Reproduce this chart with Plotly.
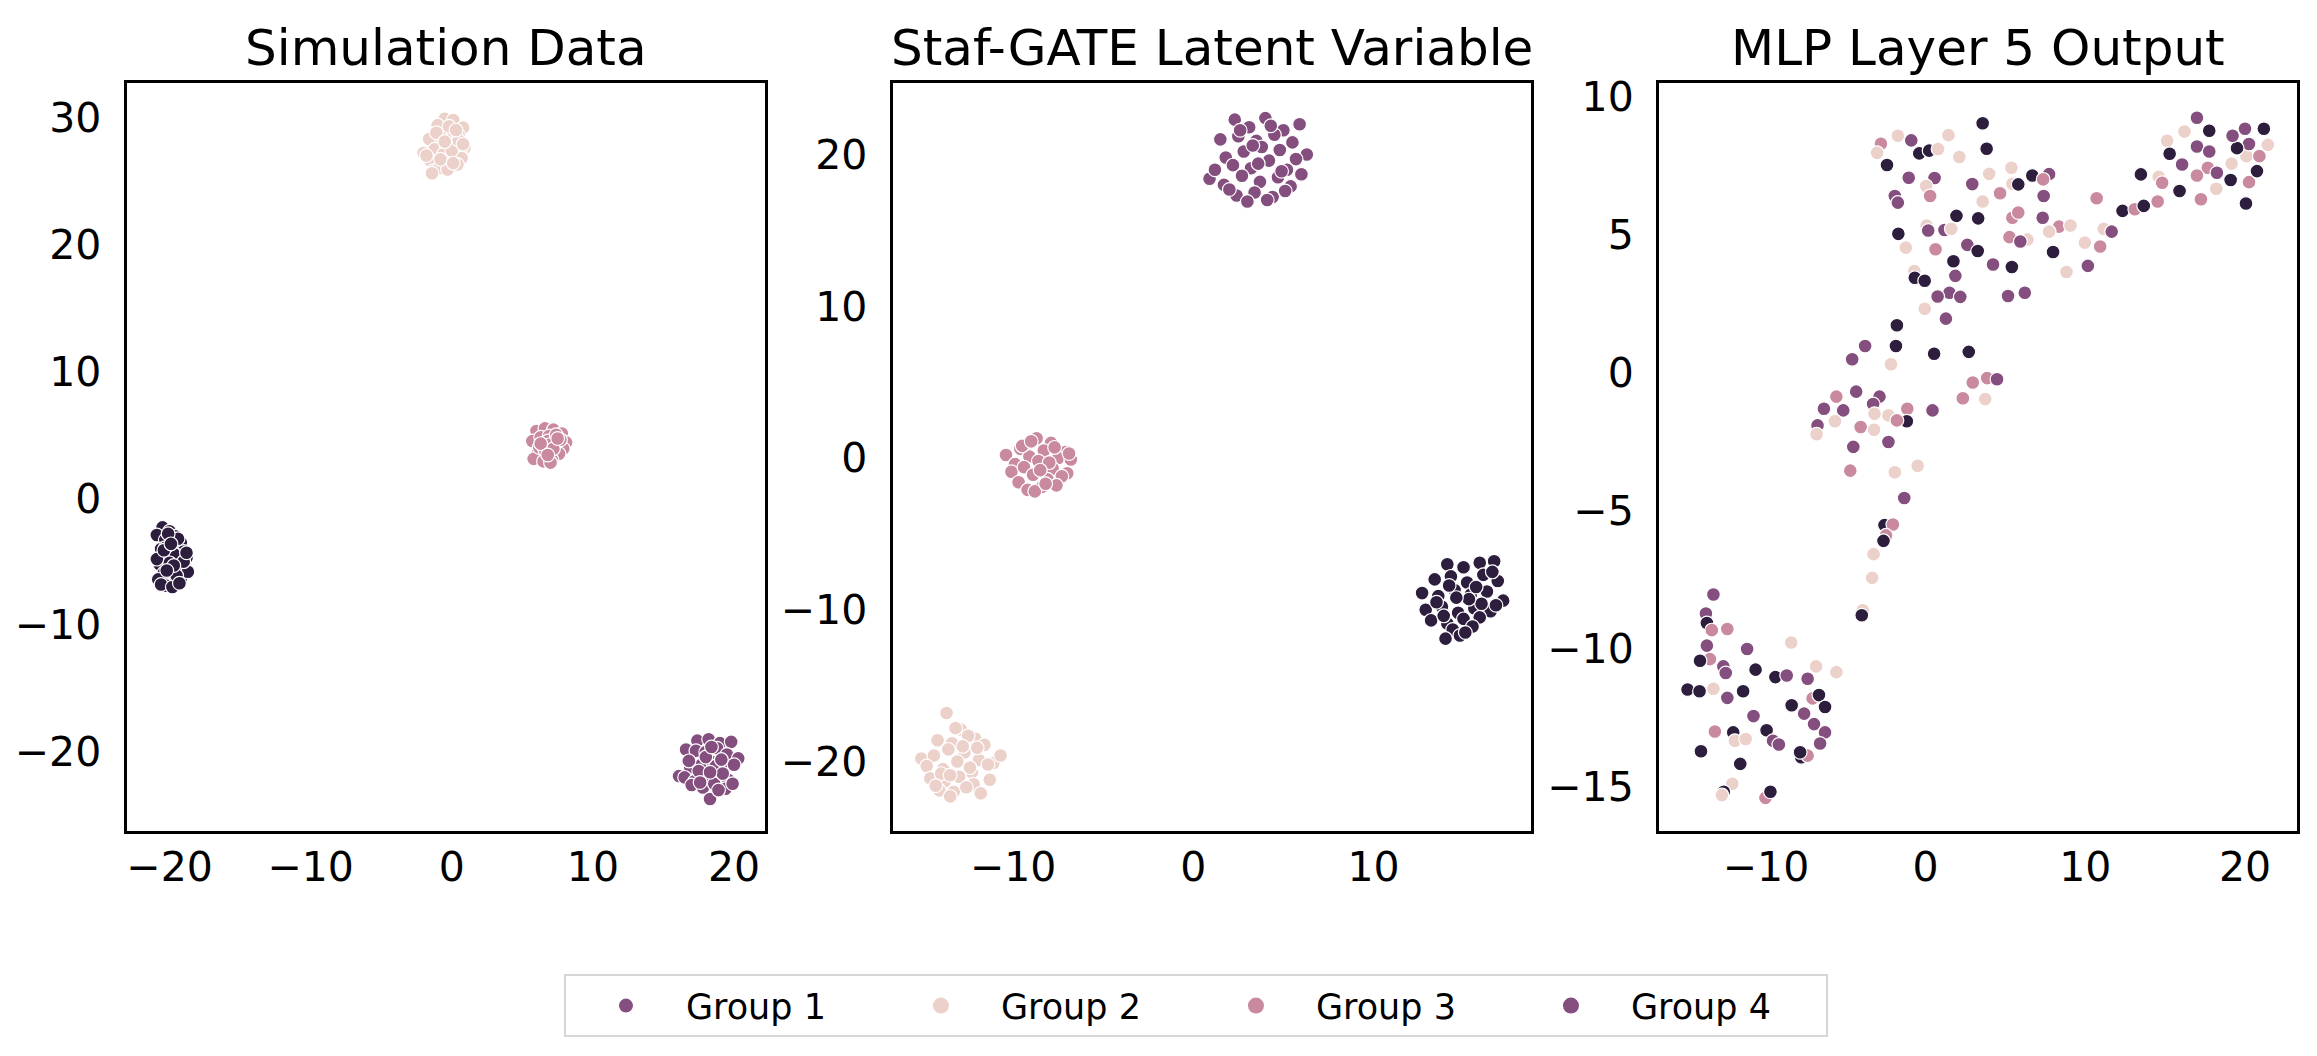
import plotly.graph_objects as go

# ---------------- colours (seaborn cubehelix-like) ----------------
LIGHT = "#ecd0ca"
PINK = "#c98aa0"
PURPLE = "#844e7e"
DARK = "#2d1e3e"
palette = {"L": LIGHT, "K": PINK, "P": PURPLE, "D": DARK}

titles = ["Simulation Data", "Staf-GATE Latent Variable", "MLP Layer 5 Output"]
legend_labels = ["Group 1", "Group 2", "Group 3", "Group 4"]
legend_colors = [PURPLE, LIGHT, PINK, PURPLE]
legend_sizes = [14, 17, 17, 19]

# ---------------- panel 1 : Simulation Data ----------------
p1_dark_x = [-20.5, -20.0, -19.6, -20.9, -19.2, -20.3, -19.8, -19.0, -20.6, -19.5, -20.1, -18.8, -20.7, -19.3,
             -19.9, -20.4, -19.1, -20.8, -19.6, -20.2, -18.9, -19.7, -20.5, -19.4, -20.0, -19.2, -20.6, -19.8,
             -18.7, -20.3, -19.5, -20.1, -19.0, -20.9, -19.7, -20.4, -19.3, -19.9, -18.8, -20.2]
p1_dark_y = [-2.3, -2.6, -3.0, -2.9, -3.5, -3.3, -3.8, -4.2, -4.0, -4.5, -4.9, -4.7, -5.2, -5.4, -5.6, -5.9,
             -6.0, -6.4, -6.6, -6.9, -5.5, -4.4, -4.6, -3.2, -5.1, -6.3, -6.8, -7.0, -5.8, -3.9, -6.1, -2.8,
             -5.0, -4.8, -5.3, -4.1, -6.7, -3.6, -4.3, -5.7]
p1_light_x = [-0.5, 0.1, 0.8, -1.0, -0.2, 0.5, -1.6, -0.8, 0.3, 0.9, -2.0, -1.2, -0.4, 0.6, -0.1, -1.5, -0.7,
              0.2, 0.7, -1.3, -0.9, -0.3, 0.4, -1.8, -0.6, 0.0, 0.5, -1.1, -0.2, 0.8, -1.4, -0.5, 0.3, -0.8, 0.1]
p1_light_y = [29.9, 29.8, 29.2, 29.4, 28.9, 28.6, 28.3, 28.5, 28.0, 27.6, 27.2, 27.5, 27.8, 27.3, 26.9, 26.6,
              26.5, 26.2, 26.8, 25.8, 26.0, 25.9, 26.3, 27.0, 27.1, 27.4, 28.2, 28.8, 29.3, 27.9, 25.6, 28.1,
              29.0, 26.7, 26.4]
p1_pink_x = [6.0, 6.6, 7.2, 7.8, 5.7, 6.3, 6.9, 7.5, 8.1, 6.1, 6.7, 7.3, 7.9, 6.4, 7.0, 7.6, 5.8, 6.5, 7.1,
             7.7, 6.2, 6.8, 7.4, 6.9, 6.6, 7.2, 7.0, 6.3, 7.5, 6.8]
p1_pink_y = [5.3, 5.5, 5.4, 5.1, 4.5, 4.8, 4.9, 4.6, 4.4, 3.6, 4.1, 4.3, 3.9, 3.3, 3.6, 3.5, 3.1, 2.9, 3.0,
             4.6, 4.0, 4.5, 5.0, 4.2, 3.8, 3.9, 2.8, 4.3, 4.7, 3.4]
p1_purple_x = [17.4, 18.2, 19.0, 19.8, 16.6, 17.3, 18.0, 18.8, 19.5, 20.3, 16.1, 16.9, 17.7, 18.5, 19.3, 20.0,
               16.5, 17.2, 18.1, 18.9, 19.6, 17.0, 17.8, 18.6, 19.4, 18.3, 17.5, 18.7, 19.1, 18.0, 16.8, 19.9,
               18.4, 17.6, 18.9, 19.2, 18.3]
p1_purple_y = [-19.1, -19.0, -19.3, -19.2, -19.8, -19.9, -20.0, -19.7, -20.2, -20.5, -21.9, -21.2, -21.0,
               -20.8, -21.3, -21.0, -22.0, -22.3, -22.0, -21.8, -22.2, -22.6, -22.8, -22.5, -22.9, -23.7,
               -21.5, -21.1, -20.6, -20.4, -20.7, -22.5, -19.6, -22.4, -23.0, -21.7, -21.6]

# ---------------- panel 2 : Staf-GATE Latent Variable ----------------
p2_purple_x = [2.3, 3.1, 4.0, 5.0, 5.9, 1.5, 2.5, 3.5, 4.5, 5.5, 6.3, 0.9, 1.8, 2.8, 3.8, 4.8, 5.7, 1.2, 2.2,
               3.2, 4.2, 5.2, 6.0, 1.7, 2.7, 3.7, 4.7, 5.4, 2.4, 3.4, 4.4, 3.0, 4.1, 2.0, 3.6, 4.9, 2.6, 4.3,
               3.3, 5.1]
p2_purple_y = [22.3, 21.8, 22.4, 21.6, 22.0, 21.0, 21.2, 20.9, 21.3, 20.8, 20.0, 18.4, 19.8, 20.2, 20.5, 20.3,
               19.7, 19.0, 19.3, 19.1, 19.6, 19.0, 18.7, 18.0, 18.6, 18.2, 18.5, 17.9, 17.3, 17.5, 17.2, 16.9,
               17.0, 17.7, 19.4, 18.9, 21.6, 21.9, 20.6, 17.6]
p2_pink_x = [-10.4, -9.6, -8.7, -7.9, -7.1, -9.9, -9.1, -8.3, -7.5, -6.8, -10.1, -9.4, -8.6, -7.8, -7.0, -9.7,
             -8.9, -8.1, -7.3, -9.2, -8.4, -7.6, -8.8, -8.0, -9.5, -8.5, -7.7, -9.0, -8.2, -6.9]
p2_pink_y = [0.2, 0.6, 1.3, 1.0, 0.4, -0.4, 0.1, 0.5, 0.0, -0.1, -0.9, -0.6, -0.2, -0.7, -1.0, -1.6, -1.1,
             -1.4, -1.2, -2.1, -1.9, -1.8, -2.2, -0.3, 0.8, -0.8, 0.7, 1.1, -1.7, 0.3]
p2_dark_x = [14.1, 15.0, 15.9, 16.7, 13.4, 14.3, 15.2, 16.1, 16.9, 12.7, 13.6, 14.5, 15.4, 16.3, 17.2, 12.9,
             13.8, 14.7, 15.6, 16.5, 13.2, 14.1, 15.0, 15.9, 14.4, 14.0, 14.8, 15.5, 16.0, 13.5, 15.3, 14.6,
             16.6, 13.9, 15.7, 14.2, 15.1, 16.8]
p2_dark_y = [-7.0, -7.2, -6.9, -6.8, -8.0, -7.8, -8.2, -7.7, -8.1, -8.9, -9.1, -8.7, -9.0, -8.8, -9.4, -10.0,
             -9.8, -10.2, -9.9, -10.1, -10.7, -10.9, -10.6, -10.5, -11.3, -11.9, -11.7, -11.1, -9.6, -9.5,
             -9.3, -9.2, -7.5, -10.4, -8.5, -8.4, -11.5, -9.7]
p2_light_x = [-13.7, -12.9, -12.1, -14.2, -13.4, -12.5, -11.6, -15.1, -14.4, -13.6, -12.7, -11.9, -11.1, -14.8,
              -13.9, -13.1, -12.3, -11.4, -14.6, -13.8, -13.0, -12.2, -11.3, -14.1, -13.3, -12.6, -11.8, -13.5,
              -12.8, -14.0, -12.4, -10.7, -13.2, -12.0, -14.3, -13.5]
p2_light_y = [-16.8, -17.9, -18.5, -18.6, -18.8, -18.3, -18.9, -19.8, -19.6, -19.2, -19.4, -19.9, -20.1, -20.3,
              -20.5, -20.0, -20.7, -20.2, -21.1, -21.3, -21.0, -21.5, -21.2, -21.9, -22.0, -21.7, -22.1, -22.3,
              -19.0, -20.8, -20.4, -19.6, -17.8, -19.1, -21.6, -20.9]

# ---------------- panel 3 : MLP Layer 5 Output ----------------
p3_x = [3.57, 3.82, -1.74, -2.8, -3.04, -0.9, -0.4, 0.22, 0.78, 1.43, 2.11, -2.42, -1.06, 0.56, 0.03, 0.28,
        -1.93, -1.74, 2.92, 3.98, 5.37, 5.43, 5.8, 6.68, 7.73, 7.36, 7.39, 4.66, 3.57, 1.93, 3.29, 5.43, 5.8,
        7.33, 8.35, 9.07, 7.73, 6.37, 5.25, 5.93, 0.06, 0.16, 1.18, 1.61, -1.71, -1.24, 0.62, 2.61, 3.26, 7.98,
        9.97, 10.93, 11.15, 11.65, 10.71, 12.33, 13.1, 13.66, 14.53, 13.48, 14.6, 14.81, 15.9, 17.24, 18.2,
        19.1, 20.06, 20.25, 20.75, 19.16, 20.09, 20.9, 21.43, 20.25, 19.5, 19.22, 20.0, 21.18, 16.99, 17.76,
        16.21, 15.12, 15.28, 16.99, 17.76, 16.06, 17.67, 16.99, 18.24, 5.4, 4.22, 1.74, 1.86, 8.82, 10.16,
        -0.71, -0.68, -0.06, 1.49, 0.75, 2.17, 5.16, 6.21, -0.06, 1.27, -1.8, -1.86, -3.79, 0.53, 2.7, -4.6,
        -2.17, 2.95, 3.85, 4.47, 2.33, 3.73, -5.59, -4.35, -2.89, -6.37, -5.16, -3.29, -3.2, -2.33, -1.15,
        -1.18, -1.8, -5.68, -6.77, -6.83, -4.07, -3.23, 0.43, -4.53, -2.33, -4.72, -1.93, -0.5, -1.34,
        -2.58, -2.05, -2.48, -2.64, -3.26, -3.35, -3.94, -4.0, -13.29, -13.76, -13.7, -13.39, -12.42, -13.7,
        -11.18, -8.42, -13.51, -14.13, -12.67, -12.52, -10.65, -6.86, -5.59, -9.41, -8.7, -7.39, -14.91,
        -14.16, -13.29, -12.42, -11.43, -7.08, -6.68, -6.3, -8.39, -7.61, -10.78, -6.99, -6.3, -6.61, -9.96,
        -9.56, -9.19, -12.05, -11.95, -11.27, -13.2, -14.07, -7.79, -7.39, -7.86, -11.61, -12.11, -12.64,
        -12.76, -10.03, -9.72]
p3_y = [9.02, 8.1, 8.57, 8.28, 7.95, 8.4, 7.93, 8.03, 8.09, 8.59, 7.8, 7.51, 7.05, 7.04, 6.75, 6.39, 6.39,
        6.15, 6.82, 7.19, 7.41, 6.83, 6.81, 7.13, 7.18, 6.99, 6.39, 6.49, 6.19, 5.67, 5.58, 5.6, 5.79, 5.6,
        5.28, 5.32, 5.1, 4.81, 4.9, 4.74, 5.32, 5.14, 5.16, 5.2, 5.02, 4.52, 4.46, 4.62, 4.4, 4.36, 4.7, 4.56,
        5.2, 5.1, 6.31, 5.85, 5.91, 6.03, 6.19, 7.17, 7.08, 6.87, 6.57, 6.27, 6.65, 6.97, 6.12, 6.89, 7.29,
        7.56, 7.83, 7.83, 8.24, 8.27, 8.12, 8.57, 8.82, 8.82, 9.22, 8.75, 8.72, 8.39, 7.92, 8.18, 8.0, 7.53,
        7.41, 7.13, 7.23, 3.82, 3.91, 4.03, 3.5, 3.64, 3.86, 3.67, 3.43, 3.32, 2.89, 2.75, 2.74, 2.77, 2.89,
        2.31, 1.95, 1.71, 0.96, 0.96, 0.68, 0.75, 0.48, 0.3, -0.36, -0.2, -0.24, -0.93, -0.96, -0.87, -0.69,
        -0.87, -1.31, -1.37, -1.14, -1.49, -1.55, -1.31, -1.76, -1.73, -1.76, -1.91, -2.23, -1.97, -2.07,
        -1.37, -2.69, -2.51, -3.55, -3.61, -3.37, -4.54,
        -5.52, -5.5, -5.89, -6.09, -6.57, -7.43, -8.6, -8.78, -8.03, -8.72, -9.06, -9.32, -9.28, -9.88, -10.0,
        -9.77, -10.37, -10.43, -10.63, -10.87, -10.75, -10.63, -10.84, -11.02, -10.96, -11.08, -11.47,
        -11.53, -11.44, -11.77, -11.53, -11.79, -11.67, -12.1, -12.04, -12.34, -12.43, -12.72, -13.02,
        -13.42, -12.94, -13.32, -13.46, -13.02, -13.32, -13.26, -12.99, -13.7, -13.92, -13.86, -13.74,
        -14.16, -14.88, -15.17, -15.29, -15.39, -15.17]
p3_group = list("DDLKLPDDLLLDPPLKPPPLLLDDPKPKLDDKKPKLLLKPLPPLDLKPDD"
                "LKLPKDKDKDLKDKLDDKDLLKLPDPPDPDLLDPPPKKPDPDPLPLDDPPP"
                "PPLPDDPDDPLKKPKLKPPPPPLLKDKLPLKLPPPKLLPD"
                "KKDLLLDPPDKKPPLKDPPDLLDPPDDLPDKDDDPPPPPDPPDLLKDDKDDLDLKDD")

# ---------------- axis ranges / ticks ----------------
x_ranges = [[-23.05, 22.2], [-16.7, 18.75], [-16.7, 23.26]]
y_ranges = [[-26.25, 32.7], [-24.6, 24.7], [-16.6, 10.47]]
x_dticks = [10, 10, 10]
y_dticks = [10, 10, 5]

x_domains = [[0.0546, 0.3302], [0.3852, 0.6608], [0.7160, 0.9914]]
y_domain = [0.2150, 0.9309]

FONT = "DejaVu Sans"
MSIZE = 13.8
MLINE = 1.2

fig = go.Figure()


def add_cluster(xs, ys, color, axis_idx):
    sfx = "" if axis_idx == 1 else str(axis_idx)
    fig.add_trace(go.Scatter(
        x=xs, y=ys, mode="markers", showlegend=False, hoverinfo="skip",
        xaxis="x" + sfx, yaxis="y" + sfx,
        marker=dict(size=MSIZE, color=color, line=dict(color="white", width=MLINE)),
    ))


# panel 1
add_cluster(p1_light_x, p1_light_y, LIGHT, 1)
add_cluster(p1_pink_x, p1_pink_y, PINK, 1)
add_cluster(p1_purple_x, p1_purple_y, PURPLE, 1)
add_cluster(p1_dark_x, p1_dark_y, DARK, 1)
# panel 2
add_cluster(p2_light_x, p2_light_y, LIGHT, 2)
add_cluster(p2_pink_x, p2_pink_y, PINK, 2)
add_cluster(p2_purple_x, p2_purple_y, PURPLE, 2)
add_cluster(p2_dark_x, p2_dark_y, DARK, 2)
# panel 3 (single trace, per-point colour keeps the mixed drawing order)
add_cluster(p3_x, p3_y, [palette[g] for g in p3_group], 3)

# legend entries
for lab, col, sz in zip(legend_labels, legend_colors, legend_sizes):
    fig.add_trace(go.Scatter(
        x=[None], y=[None], mode="markers", name=lab,
        marker=dict(size=sz, color=col, line=dict(width=0)),
    ))

layout = dict(
    width=2317, height=1056,
    margin=dict(l=0, r=0, t=0, b=0),
    paper_bgcolor="white", plot_bgcolor="white",
    font=dict(family=FONT, size=41, color="black"),
    showlegend=True,
    legend=dict(
        orientation="h", x=0.2434, xanchor="left", y=0.048, yanchor="middle",
        font=dict(family=FONT, size=35, color="black"),
        bordercolor="#d6d6d6", borderwidth=2, bgcolor="white",
        itemwidth=110, entrywidth=190, entrywidthmode="pixels", itemsizing="trace",
    ),
    annotations=[],
)

for i in range(3):
    sfx = "" if i == 0 else str(i + 1)
    layout["xaxis" + sfx] = dict(
        domain=x_domains[i], range=x_ranges[i], anchor="y" + sfx,
        tick0=0, dtick=x_dticks[i], showgrid=False, zeroline=False,
        showline=True, mirror=True, linecolor="black", linewidth=3,
        ticks="", ticklabelstandoff=-3, tickfont=dict(family=FONT, size=41, color="black"),
    )
    layout["yaxis" + sfx] = dict(
        domain=y_domain, range=y_ranges[i], anchor="x" + sfx,
        tick0=0, dtick=y_dticks[i], showgrid=False, zeroline=False,
        showline=True, mirror=True, linecolor="black", linewidth=3,
        ticks="", ticklabelstandoff=14, tickfont=dict(family=FONT, size=41, color="black"),
    )
    layout["annotations"].append(dict(
        text=titles[i], xref="paper", yref="paper",
        x=(x_domains[i][0] + x_domains[i][1]) / 2, y=y_domain[1],
        xanchor="center", yanchor="bottom", yshift=4, showarrow=False,
        font=dict(family=FONT, size=50, color="black"),
    ))

fig.update_layout(**layout)
fig.write_html("out.html", config={"displayModeBar": False},
               post_script="document.body.style.margin='0';")
